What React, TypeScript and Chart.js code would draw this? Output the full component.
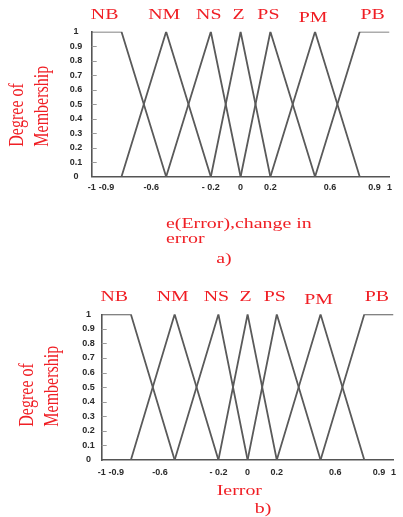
import React, { useEffect, useRef } from "react";
import { Chart, registerables } from "chart.js";

Chart.register(...registerables);

// ---- data ----
const SET_NAMES = ["NB", "NM", "NS", "Z", "PS", "PM", "PB"];
const NB_X = [-1, -0.8, -0.5];
const NB_Y = [1, 1, 0];
const NM_X = [-0.8, -0.5, -0.2];
const NM_Y = [0, 1, 0];
const NS_X = [-0.5, -0.2, 0];
const NS_Y = [0, 1, 0];
const Z_X = [-0.2, 0, 0.2];
const Z_Y = [0, 1, 0];
const PS_X = [0, 0.2, 0.5];
const PS_Y = [0, 1, 0];
const PM_X = [0.2, 0.5, 0.8];
const PM_Y = [0, 1, 0];
const PB_X = [0.5, 0.8, 1];
const PB_Y = [0, 1, 1];
const SETS_X = [NB_X, NM_X, NS_X, Z_X, PS_X, PM_X, PB_X];
const SETS_Y = [NB_Y, NM_Y, NS_Y, Z_Y, PS_Y, PM_Y, PB_Y];

const X_TICKS = [-1, -0.9, -0.6, -0.2, 0, 0.2, 0.6, 0.9, 1];
const X_TICK_LABELS = ["-1", "-0.9", "-0.6", "- 0.2", "0", "0.2", "0.6", "0.9", "1"];
const Y_TICKS = [0, 0.1, 0.2, 0.3, 0.4, 0.5, 0.6, 0.7, 0.8, 0.9, 1];
const Y_TICK_LABELS = ["0", "0.1", "0.2", "0.3", "0.4", "0.5", "0.6", "0.7", "0.8", "0.9", "1"];

const Y_TITLE = ["Degree of", "Membership"];
const X_TITLE_A = ["e(Error),change in", "error"];
const CAPTION_A = "a)";
const X_TITLE_B = ["Ierror"];
const CAPTION_B = "b)";

// ---- style ----
const RED = "#f01e24";
const LINE = "#5a5a5a";
const AXIS = "#555555";
const SERIF = "'Liberation Serif', 'Times New Roman', serif";
const STRETCH = 1.42;
const YW = 40;
const XH = 20;

type PanelCfg = {
  top: number;
  height: number;
  area: { left: number; right: number; top: number; bottom: number };
  yPad: number;
  xPad: number;
  yTitleX: number[];
  yTitleBottom: number;
  xTitle: string[];
  xTitleLeft: number;
  xTitleBase: number[];
  caption: string;
  captionX: number;
  captionBase: number;
};

const PANEL_A: PanelCfg = {
  top: 0,
  height: 275,
  area: { left: 91.7, right: 389.5, top: 31.7, bottom: 176.7 },
  yPad: 9.5,
  xPad: 5,
  yTitleX: [17.5, 42.5],
  yTitleBottom: 146.7,
  xTitle: X_TITLE_A,
  xTitleLeft: 166,
  xTitleBase: [228.3, 243.3],
  caption: CAPTION_A,
  captionX: 224,
  captionBase: 263.3,
};

const PANEL_B: PanelCfg = {
  top: 275,
  height: 242,
  area: { left: 101.7, right: 400.5, top: 39.3, bottom: 185 },
  yPad: 7,
  xPad: 7,
  yTitleX: [28, 53],
  yTitleBottom: 151.7,
  xTitle: X_TITLE_B,
  xTitleLeft: 216.7,
  xTitleBase: [220],
  caption: CAPTION_B,
  captionX: 263,
  captionBase: 238.3,
};

function makeAnnotPlugin(cfg: PanelCfg) {
  return {
    id: "annot",
    afterDraw(chart: any) {
      const ctx = chart.ctx as CanvasRenderingContext2D;
      const xs = chart.scales.x;
      const ys = chart.scales.y;
      const ca = chart.chartArea;
      ctx.save();
      // inward y tick marks
      ctx.strokeStyle = "#9a9a9a";
      ctx.lineWidth = 1;
      Y_TICKS.forEach((v) => {
        if (v <= 0 || v >= 1) return;
        const py = Math.round(ys.getPixelForValue(v)) + 0.5;
        ctx.beginPath();
        ctx.moveTo(ca.left, py);
        ctx.lineTo(ca.left + 5, py);
        ctx.stroke();
      });

      ctx.fillStyle = RED;
      // fuzzy set names above each core
      ctx.font = `14px ${SERIF}`;
      ctx.textAlign = "center";
      ctx.textBaseline = "middle";
      chart.data.datasets.forEach((ds: any) => {
        const core = ds.data.filter((p: any) => p.y === 1);
        const cx = core.reduce((s: number, p: any) => s + p.x, 0) / core.length;
        const px = xs.getPixelForValue(cx) - 2;
        const dy = ds.label === "PM" ? 3 : 0;
        ctx.save();
        ctx.translate(px, ca.top - 16.5 + dy);
        ctx.scale(STRETCH, 1);
        ctx.fillText(ds.label, 0, 0);
        ctx.restore();
      });

      // y title (rotated)
      ctx.font = `16px ${SERIF}`;
      ctx.textAlign = "left";
      ctx.textBaseline = "middle";
      Y_TITLE.forEach((line, i) => {
        ctx.save();
        ctx.translate(cfg.yTitleX[i], cfg.yTitleBottom);
        ctx.rotate(-Math.PI / 2);
        ctx.scale(1, 1.25);
        ctx.fillText(line, 0, 0);
        ctx.restore();
      });

      // x title
      ctx.font = `14px ${SERIF}`;
      ctx.textAlign = "left";
      ctx.textBaseline = "alphabetic";
      cfg.xTitle.forEach((line, i) => {
        ctx.save();
        ctx.translate(cfg.xTitleLeft, cfg.xTitleBase[i]);
        ctx.scale(STRETCH, 1);
        ctx.fillText(line, 0, 0);
        ctx.restore();
      });

      // caption
      ctx.textAlign = "center";
      ctx.save();
      ctx.translate(cfg.captionX, cfg.captionBase);
      ctx.scale(STRETCH, 1);
      ctx.fillText(cfg.caption, 0, 0);
      ctx.restore();

      ctx.restore();
    },
  };
}

function Panel({ cfg }: { cfg: PanelCfg }) {
  const ref = useRef<HTMLCanvasElement | null>(null);
  useEffect(() => {
    if (!ref.current) return;
    const a = cfg.area;
    const tickFont = { family: "'Liberation Sans', Arial, sans-serif", size: 9, weight: "bold" as const };
    const chart = new Chart(ref.current, {
      type: "line",
      data: {
        datasets: SET_NAMES.map((name, k) => ({
          label: name,
          data: SETS_X[k].map((x, i) => ({ x, y: SETS_Y[k][i] })),
          borderColor: LINE,
          borderWidth: 1.8,
          pointRadius: 0,
          fill: false,
          tension: 0,
        })),
      },
      options: {
        responsive: false,
        animation: false,
        events: [],
        layout: {
          padding: {
            left: a.left - YW,
            right: 403 - a.right,
            top: a.top,
            bottom: cfg.height - a.bottom - XH,
          },
        },
        plugins: {
          legend: { display: false },
          tooltip: { enabled: false },
          title: { display: false },
        },
        scales: {
          x: {
            type: "linear",
            min: -1,
            max: 1,
            grid: { display: false, drawTicks: false },
            border: { display: true, color: AXIS, width: 1.6 },
            afterBuildTicks: (s: any) => {
              s.ticks = X_TICKS.map((v) => ({ value: v }));
            },
            afterFit: (s: any) => {
              s.height = XH;
            },
            ticks: {
              autoSkip: false,
              maxRotation: 0,
              minRotation: 0,
              padding: cfg.xPad,
              color: "#2a2a2a",
              font: tickFont,
              callback: (_v: any, i: number) => X_TICK_LABELS[i],
            },
          },
          y: {
            type: "linear",
            min: 0,
            max: 1,
            grid: { display: false, drawTicks: false },
            border: { display: true, color: AXIS, width: 1.6 },
            afterBuildTicks: (s: any) => {
              s.ticks = Y_TICKS.map((v) => ({ value: v }));
            },
            afterFit: (s: any) => {
              s.width = YW;
            },
            ticks: {
              crossAlign: "center",
              padding: cfg.yPad,
              color: "#2a2a2a",
              font: tickFont,
              callback: (_v: any, i: number) => Y_TICK_LABELS[i],
            },
          },
        },
      } as any,
      plugins: [makeAnnotPlugin(cfg)],
    });
    return () => chart.destroy();
  }, [cfg]);
  return (
    <canvas
      ref={ref}
      width={403}
      height={cfg.height}
      style={{ position: "absolute", left: 0, top: cfg.top, display: "block" }}
    />
  );
}

export default function App() {
  return (
    <div
      style={{
        position: "absolute",
        left: 0,
        top: 0,
        width: 403,
        height: 517,
        background: "#ffffff",
        overflow: "hidden",
      }}
    >
      <Panel cfg={PANEL_A} />
      <Panel cfg={PANEL_B} />
    </div>
  );
}
